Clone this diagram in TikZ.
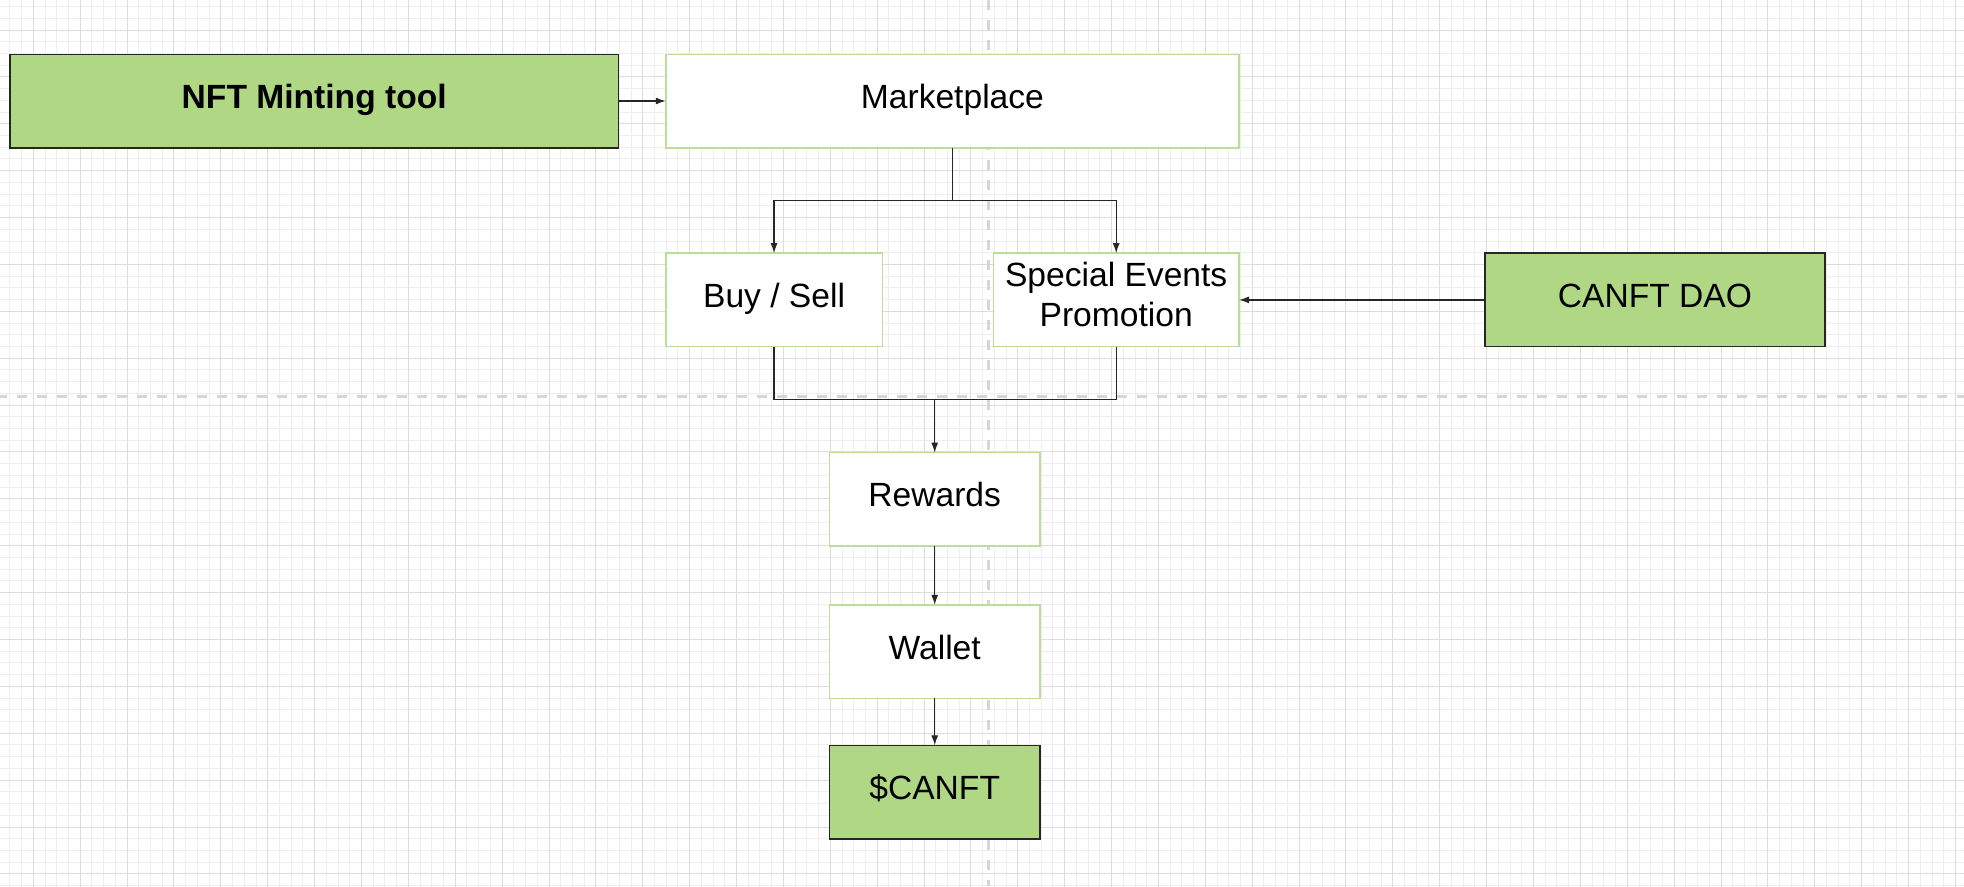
\documentclass[tikz,border=0pt]{standalone}
\usepackage{fontspec}
\setmainfont{Liberation Sans}
\usetikzlibrary{positioning, calc, arrows.meta}
\usepackage{xcolor}
\definecolor{boxgreen}{RGB}{176,216,132}
\definecolor{edgegreen}{RGB}{185,224,150}

\begin{document}
\begin{tikzpicture}[
    node distance=47pt,
    box/.style={draw=edgegreen, fill=white, line width=1.5pt, minimum height=93.5pt, align=center, inner sep=0pt, outer sep=0pt, text height=25pt, text depth=10pt, font=\fontsize{33.6}{40}\selectfont},
    keybox/.style={box, draw=black!85, fill=boxgreen},
    arr/.style={-{Latex[length=10pt,width=7pt]}, line width=1.2pt, draw=black!85},
    link/.style={line width=1.2pt, draw=black!85},
    minorgrid/.style={draw=gray!13, line width=1pt},
    majorgrid/.style={draw=gray!27, line width=1pt},
    pagebreak/.style={draw=gray!32, line width=3pt, dash pattern=on 10pt off 10pt}
]

% Canvas and grid
\useasboundingbox[fill=white] (0,0) rectangle (1964pt,-886pt);
\begin{scope}
    \clip (0,0) rectangle (1964pt,-886pt);
    \draw[minorgrid, xshift=9.9pt, yshift=-6.6pt] (-11.72pt,11.72pt) grid[step=11.72pt] (1968pt,-890pt);
    \draw[majorgrid, xshift=33.34pt, yshift=-30.04pt] (-46.88pt,46.88pt) grid[step=46.88pt] (1968pt,-890pt);
    \draw[pagebreak] (-2.7pt,-396pt) -- (1964pt,-396pt);
    \draw[pagebreak] (988.3pt,0) -- (988.3pt,-886pt);
\end{scope}

% Top row
\node[keybox, minimum width=608.3pt, font={\fontsize{33.6}{40}\selectfont\bfseries}] (mint) at (314.2pt,-101pt) {NFT Minting tool};
\node[box, minimum width=573.3pt, right=47.4pt of mint] (market) {Marketplace};

% Marketplace branches
\node[box, minimum width=216.6pt, below right=105.4pt and 0pt of market.south west] (buysell) {Buy / Sell};
\node[box, minimum width=245.7pt, text height=63pt, text depth=10pt, below left=105.4pt and 0pt of market.south east] (special) {Special Events\\Promotion};
\node[keybox, minimum width=339.7pt, right=246pt of special] (dao) {CANFT DAO};

% Rewards chain
\node[box, minimum width=210.7pt] (rewards) at (934.7pt,-499.35pt) {Rewards};
\node[box, minimum width=210.7pt, below=58.7pt of rewards] (wallet) {Wallet};
\node[keybox, minimum width=210.7pt, below=47pt of wallet] (token) {\$CANFT};

% Connections
\coordinate (split) at ($(market.south)+(0,-52.4pt)$);
\coordinate (join) at ($(rewards.north)+(0,53pt)$);
\draw[arr] (mint) -- (market);
\draw[link] (market.south) -- (split);
\draw[arr] (split) -| (buysell.north);
\draw[arr] (split) -| (special.north);
\draw[arr] (dao) -- (special);
\draw[link] (buysell.south) |- (join);
\draw[link] (special.south) |- (join);
\draw[arr] (join) -- (rewards);
\draw[arr] (rewards) -- (wallet);
\draw[arr] (wallet) -- (token);

\end{tikzpicture}
\end{document}
